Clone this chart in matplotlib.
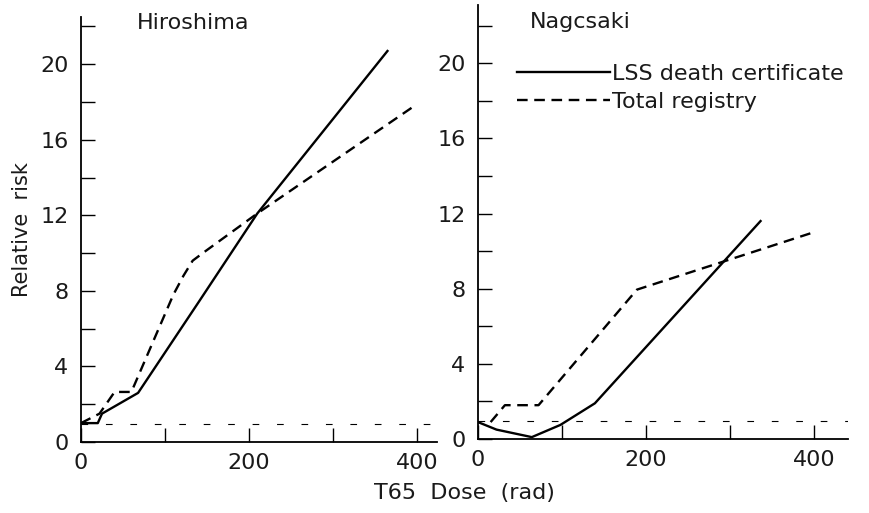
import matplotlib
matplotlib.use("Agg")
import matplotlib.pyplot as plt
from matplotlib.ticker import MultipleLocator

plt.rcParams['font.family'] = ['DejaVu Sans']

# Hiroshima
hiro_lss_x = [0, 20, 25, 68, 140, 210, 365]
hiro_lss_y = [1.0, 1.0, 1.5, 2.6, 7.4, 12.1, 20.7]
hiro_reg_x = [0, 22, 40, 60, 110, 122, 133, 145, 210, 394]
hiro_reg_y = [1.0, 1.5, 2.65, 2.65, 7.8, 8.8, 9.6, 10.0, 12.1, 17.7]

# Nagasaki
naga_lss_x = [0, 22, 64, 98, 139, 336]
naga_lss_y = [0.9, 0.5, 0.1, 0.75, 1.9, 11.6]
naga_reg_x = [15, 32, 72, 189, 399]
naga_reg_y = [0.9, 1.8, 1.8, 7.95, 11.0]

x_ticks = [0, 200, 400]
y_ticks = [0, 4, 8, 12, 16, 20]
titles = ["Hiroshima", "Nagcsaki"]
legend_labels = ["LSS death certificate", "Total registry"]

fig = plt.figure(figsize=(8.7, 5.13), dpi=100)
ax1 = fig.add_axes([81/870, 1-442/513, (437-81)/870, (442-17)/513])
ax2 = fig.add_axes([478/870, 1-439/513, (848-478)/870, (439-5)/513])

TXT = '#1a1a1a'
LW = 1.7
for ax, xmax, ymax in [(ax1, 424, 22.5), (ax2, 440, 23.1)]:
    ax.set_xlim(0, xmax)
    ax.set_ylim(0, ymax)
    for s in ['top', 'right']:
        ax.spines[s].set_visible(False)
    for s in ['left', 'bottom']:
        ax.spines[s].set_linewidth(1.3)
    ax.set_xticks(x_ticks)
    ax.set_yticks(y_ticks)
    ax.xaxis.set_minor_locator(MultipleLocator(100))
    ax.yaxis.set_minor_locator(MultipleLocator(2))
    ax.tick_params(which='both', direction='in', length=10, width=1.0,
                   labelsize=16, color='black', labelcolor=TXT)
    ax.tick_params(axis='x', which='both', pad=8)
    ax.tick_params(axis='y', which='both', pad=9)
    ax.axhline(0.95, color='black', lw=0.8, dashes=(6, 16), zorder=1)

ax1.plot(hiro_lss_x, hiro_lss_y, color='black', lw=LW, solid_joinstyle='round')
ax1.plot(hiro_reg_x, hiro_reg_y, color='black', lw=LW, dashes=(4.5, 2.8))
ax2.plot(naga_lss_x, naga_lss_y, color='black', lw=LW, solid_joinstyle='round',
         label=legend_labels[0])
ax2.plot(naga_reg_x, naga_reg_y, color='black', lw=LW, dashes=(4.5, 2.8),
         label=legend_labels[1])

ax1.set_ylabel("Relative  risk", fontsize=15, color=TXT, labelpad=6)
fig.text(464/870, 1-493/513, "T65  Dose  (rad)", fontsize=16, color=TXT,
         ha='center', va='center')
fig.text(137/870, 1-23/513, titles[0], fontsize=16, color=TXT,
         ha='left', va='center')
fig.text(530/870, 1-22/513, titles[1], fontsize=16, color=TXT,
         ha='left', va='center')

leg = ax2.legend(loc='upper left', bbox_to_anchor=(30/370, 1-50/434),
                 frameon=False, fontsize=16, handlelength=4.2,
                 handletextpad=0.1, labelspacing=0.35, borderaxespad=0)
for t in leg.get_texts():
    t.set_color(TXT)

fig.savefig("out.png", dpi=100)
